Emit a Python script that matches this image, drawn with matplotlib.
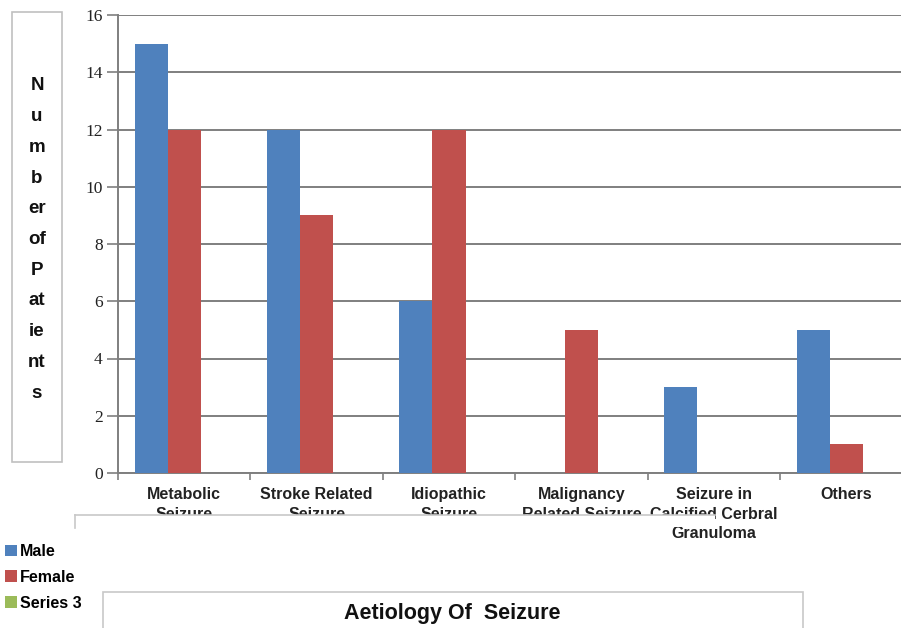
import matplotlib
matplotlib.use("Agg")
import matplotlib.pyplot as plt
import numpy as np
from matplotlib.patches import Rectangle
from matplotlib.lines import Line2D

categories = ["Metabolic\nSeizure", "Stroke Related\nSeizure", "Idiopathic\nSeizure",
              "Malignancy\nRelated Seizure", "Seizure in\nCalcified Cerbral\nGranuloma", "Others"]
male = [15, 12, 6, 0, 3, 5]
female = [12, 9, 12, 5, 0, 1]
series3 = [0, 0, 0, 0, 0, 0]
series_names = ["Male", "Female", "Series 3"]
colors = ["#4F81BD", "#C0504D", "#9BBB59"]
yticks = [0, 2, 4, 6, 8, 10, 12, 14, 16]

NARROW = ["Liberation Sans Narrow", "Liberation Sans", "DejaVu Sans"]
W, H = 901, 628

fig = plt.figure(figsize=(W / 100, H / 100), dpi=100)
fig.patch.set_facecolor("white")

def fx(px):
    return px / W

def fy(py):
    return 1 - py / H

# plot area: left edge 118px, zero line at 473px, top at 15px; runs past right edge
ax = fig.add_axes([fx(118), fy(473), 794.4 / W, (473 - 15) / H])
x = np.arange(len(categories))
bw = 0.25
for i, (vals, name) in enumerate(zip([male, female, series3], series_names)):
    ax.bar(x + (i - 1) * bw, vals, bw, color=colors[i], label=name, zorder=3)

ax.set_xlim(-0.5, len(categories) - 0.5)
ax.set_ylim(0, 16)
ax.set_yticks(yticks)
ax.set_yticklabels([str(t) for t in yticks], family=["Liberation Serif", "DejaVu Serif"],
                   fontsize=12.5, color="#222222")
ax.yaxis.grid(True, color="#7f7f7f", lw=1.4, zorder=1)
ax.tick_params(axis="y", length=8, width=1.2, color="#7f7f7f", pad=3)

ax.set_xticks(x)
ax.set_xticklabels(categories, family=NARROW, fontweight="bold", fontsize=11.5,
                   color="#222222", linespacing=1.4)
ax.set_xticks(np.arange(-0.5, len(categories)), minor=True)
ax.tick_params(axis="x", which="major", length=0, pad=10)
ax.tick_params(axis="x", which="minor", length=5, width=1.2, color="#7f7f7f")

for s in ["top", "right"]:
    ax.spines[s].set_visible(False)
for s in ["left", "bottom"]:
    ax.spines[s].set_color("#7f7f7f")
    ax.spines[s].set_linewidth(1.4)

# text box sitting over the second line of the category labels
fig.add_artist(Rectangle((fx(75), fy(527)), fx(715 - 75), (527 - 515) / H,
                         transform=fig.transFigure, fc="white", ec="none", zorder=5))
fig.add_artist(Line2D([fx(75), fx(715)], [fy(515), fy(515)], color="#c8c8c8", lw=1.2, zorder=6))
fig.add_artist(Line2D([fx(75), fx(75)], [fy(515), fy(528)], color="#c8c8c8", lw=1.2, zorder=6))

# y-axis title box with one syllable per line
fig.add_artist(Rectangle((fx(12), fy(462)), fx(50), (462 - 12) / H,
                         transform=fig.transFigure, fc="white", ec="#c0c0c0", lw=1.2, zorder=2))
ylab_parts = ["N", "u", "m", "b", "er", "of", "P", "at", "ie", "nt", "s"]
for k, part in enumerate(ylab_parts):
    fig.text(fx(37), fy(86 + k * 30.7), part, ha="center", va="center",
             family=NARROW, fontweight="bold", fontsize=13.5, color="#111111")

# x-axis title box
fig.add_artist(Rectangle((fx(103), fy(640)), fx(700), (640 - 592) / H,
                         transform=fig.transFigure, fc="white", ec="#c8c8c8", lw=1.2, zorder=2))
fig.text(fx(452), fy(613), "Aetiology Of  Seizure", ha="center", va="center",
         family=NARROW, fontweight="bold", fontsize=15.5, color="#111111", zorder=3)

fig.legend(loc="upper left", bbox_to_anchor=(fx(5), fy(544)), frameon=False,
           handlelength=0.75, handleheight=0.75, handletextpad=0.2, labelspacing=0.68,
           borderpad=0, borderaxespad=0,
           prop={"family": NARROW, "weight": "bold", "size": 11.5})

fig.savefig("out.png", dpi=100, facecolor="white")
